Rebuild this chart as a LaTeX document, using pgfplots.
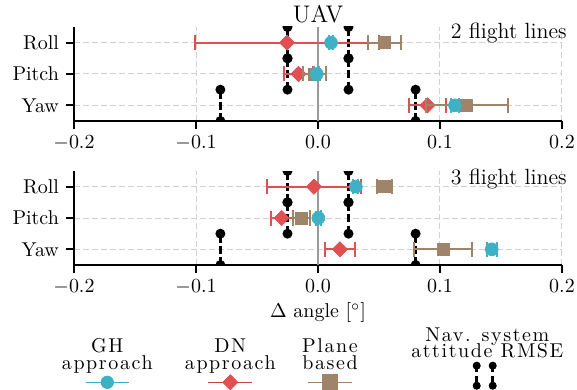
\documentclass[border=0pt]{standalone}
\usepackage{fontspec}
\usepackage{pgfplots}
\pgfplotsset{compat=1.18}
\newfontfamily\legfont{lmroman10-regular.otf}[LetterSpace=8]
\newcommand\legfnt{\legfont\fontsize{10}{8.35}\selectfont\setlength{\lineskiplimit}{-20pt}}
\definecolor{ghc}{RGB}{62,178,196}
\definecolor{dnc}{RGB}{224,80,82}
\definecolor{plc}{RGB}{160,132,106}
\tikzset{legtxt/.style={anchor=base, inner sep=0pt, align=center, font=\legfnt}}
\pgfplotsset{
  panel/.style={
    scale only axis, width=244pt, height=47pt,
    xmin=-0.2, xmax=0.2, ymin=-0.5, ymax=2.5,
    xtick={-0.2,-0.1,0,0.1,0.2},
    xticklabel style={/pgf/number format/.cd, fixed, fixed zerofill, precision=1},
    ytick={0,1,2}, yticklabels={Yaw,Pitch,Roll},
    axis x line*=bottom, axis y line*=left,
    axis line style={line width=0.9pt, black, -},
    tick align=outside, major tick length=4pt,
    every tick/.style={black, line width=0.9pt},
    grid=major,
    major grid style={dash pattern=on 3pt off 1.5pt, line width=0.5pt, black!18},
    clip marker paths=true,
    anchor=south west,
  },
  navs/.style={forget plot, black, line width=1.3pt, dash pattern=on 4pt off 1.6pt, mark=*, mark size=1.8pt, mark options={solid}, unbounded coords=jump},
  zerol/.style={forget plot, black!40, line width=0.6pt},
  dns/.style={forget plot, dnc, only marks, mark=square*, mark size=2.65pt, mark options={rotate=45, draw=dnc, fill=dnc},
    error bars/.cd, x dir=both, x explicit, error bar style={line width=1pt, dnc}, error mark=|, error mark options={line width=1pt, mark size=3.75pt, dnc, rotate=0}},
  pls/.style={forget plot, plc, only marks, mark=square*, mark size=3pt, mark options={draw=plc, fill=plc},
    error bars/.cd, x dir=both, x explicit, error bar style={line width=1pt, plc}, error mark=|, error mark options={line width=1pt, mark size=3.75pt, plc}},
  ghs/.style={forget plot, ghc, only marks, mark=*, mark size=3.2pt, mark options={draw=ghc, fill=ghc},
    error bars/.cd, x dir=both, x explicit, error bar style={line width=1pt, ghc}, error mark=|, error mark options={line width=1pt, mark size=3.75pt, ghc}},
}
\begin{document}
\begin{tikzpicture}
\path[use as bounding box] (0,0) rectangle (288.5pt,195pt);
% ---------- top panel: 2 flight lines
\begin{axis}[panel, name=top, at={(37pt,134.5pt)}]
\addplot[zerol] coordinates {(0,-0.5) (0,2.5)};
\addplot[navs] coordinates {(-0.025,1.5) (-0.025,2.5) (nan,nan) (0.025,1.5) (0.025,2.5) (nan,nan)
  (-0.025,0.5) (-0.025,1.5) (nan,nan) (0.025,0.5) (0.025,1.5) (nan,nan)
  (-0.08,-0.5) (-0.08,0.5) (nan,nan) (0.08,-0.5) (0.08,0.5)};
\addplot[dns] coordinates {(-0.0254,2) +- (0.0754,0) (-0.016,1) +- (0.012,0) (0.0898,0) +- (0.0149,0)};
\addplot[pls] coordinates {(0.0545,2) +- (0.0133,0) (-0.003,1) +- (0.0095,0) (0.1219,0) +- (0.0336,0)};
\addplot[ghs] coordinates {(0.0107,2) +- (0.002,0) (-0.001,1) +- (0.002,0) (0.1123,0) +- (0.003,0)};
\end{axis}
% ---------- bottom panel: 3 flight lines
\begin{axis}[panel, name=bot, at={(37pt,62.5pt)},
  legend style={draw=none, fill=none, inner sep=0pt, outer sep=0pt, nodes={inner sep=0pt, outer sep=0pt},
    at={(0,0)}, anchor=south west, xshift=-13.35pt, yshift=-63.65pt}]
\addplot[zerol] coordinates {(0,-0.5) (0,2.5)};
\addplot[navs] coordinates {(-0.025,1.5) (-0.025,2.5) (nan,nan) (0.025,1.5) (0.025,2.5) (nan,nan)
  (-0.025,0.5) (-0.025,1.5) (nan,nan) (0.025,0.5) (0.025,1.5) (nan,nan)
  (-0.08,-0.5) (-0.08,0.5) (nan,nan) (0.08,-0.5) (0.08,0.5)};
\addplot[dns] coordinates {(-0.0033,2) +- (0.0385,0) (-0.0298,1) +- (0.009,0) (0.018,0) +- (0.0123,0)};
\addplot[pls] coordinates {(0.0542,2) +- (0.0061,0) (-0.0134,1) +- (0.0068,0) (0.1025,0) +- (0.0235,0)};
\addplot[ghs] coordinates {(0.031,2) +- (0.002,0) (0.0003,1) +- (0.002,0) (0.1424,0) +- (0.004,0)};
\addlegendimage{legend image code/.code={
  \path[draw=none, fill=none] (-30pt,-5pt) rectangle (225pt,33pt);
  % GH
  \draw[ghc, line width=0.8pt] (-10.8pt,0pt) -- (10.8pt,0pt);
  \fill[ghc] (0pt,0pt) circle (3.1pt);
  \node[legtxt] at (0pt,6.65pt) {GH\\approach};
  % DN
  \draw[dnc!85!black, line width=0.8pt] (50.5pt,0pt) -- (72.5pt,0pt);
  \fill[dnc] (61.5pt,3.75pt) -- (65.25pt,0pt) -- (61.5pt,-3.75pt) -- (57.75pt,0pt) -- cycle;
  \node[legtxt] at (61.5pt,6.65pt) {DN\\approach};
  % Plane
  \draw[plc, line width=0.8pt] (100.35pt,0pt) -- (122.35pt,0pt);
  \fill[plc] (107.6pt,-3.75pt) rectangle (115.1pt,3.75pt);
  \node[legtxt] at (111.35pt,6.65pt) {Plane\\based};
  % Nav
  \draw[black, line width=1.3pt, dash pattern=on 3pt off 2pt] (184.7pt,8.3pt) -- (184.7pt,-1.7pt);
  \draw[black, line width=1.3pt, dash pattern=on 3pt off 2pt] (192.7pt,8.3pt) -- (192.7pt,-1.7pt);
  \fill[black] (184.7pt,8.3pt) circle (1.8pt) (184.7pt,-1.7pt) circle (1.8pt)
               (192.7pt,8.3pt) circle (1.8pt) (192.7pt,-1.7pt) circle (1.8pt);
  \node[legtxt] at (190pt,12.3pt) {Nav. system\\attitude RMSE};
}}
\addlegendentry{}
\end{axis}
\node[anchor=base, font=\large, inner sep=0pt] at ([yshift=2.4pt]top.north) {UAV};
\node[anchor=base east, inner sep=0pt, font=\fontsize{11}{13}\selectfont] at ([xshift=2.5pt,yshift=-6pt]top.north east) {2 flight lines};
\node[anchor=base east, inner sep=0pt, font=\fontsize{11}{13}\selectfont] at ([xshift=2.5pt,yshift=-7pt]bot.north east) {3 flight lines};
\node[anchor=base, inner sep=0pt] at ([yshift=-26.35pt]bot.south) {$\Delta$ angle [$^\circ$]};
\end{tikzpicture}
\end{document}
